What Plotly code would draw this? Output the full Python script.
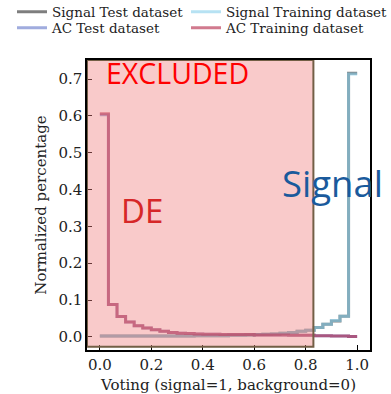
import numpy as np
import plotly.graph_objects as go

# 30 equal-width bins on the voting score
bin_edges = np.linspace(0.0, 1.0, 31)

signal_test = [0.002, 0.002, 0.002, 0.002, 0.002, 0.002, 0.002, 0.002, 0.002, 0.002,
               0.002, 0.003, 0.003, 0.003, 0.003, 0.004, 0.004, 0.005, 0.006, 0.007,
               0.008, 0.010, 0.012, 0.015, 0.018, 0.025, 0.034, 0.043, 0.056, 0.716]
signal_train = [0.002, 0.002, 0.002, 0.002, 0.002, 0.002, 0.002, 0.002, 0.002, 0.002,
                0.002, 0.003, 0.003, 0.003, 0.003, 0.004, 0.004, 0.005, 0.006, 0.007,
                0.008, 0.010, 0.012, 0.015, 0.018, 0.025, 0.034, 0.044, 0.056, 0.714]
ac_test = [0.603, 0.088, 0.055, 0.040, 0.030, 0.024, 0.019, 0.015, 0.012, 0.010,
           0.009, 0.008, 0.007, 0.007, 0.006, 0.006, 0.006, 0.006, 0.005, 0.005,
           0.005, 0.005, 0.004, 0.004, 0.004, 0.003, 0.003, 0.002, 0.002, 0.001]
ac_train = [0.606, 0.088, 0.055, 0.040, 0.030, 0.024, 0.019, 0.015, 0.012, 0.010,
            0.009, 0.008, 0.007, 0.007, 0.006, 0.006, 0.006, 0.006, 0.005, 0.005,
            0.005, 0.005, 0.004, 0.004, 0.004, 0.003, 0.003, 0.002, 0.002, 0.001]

# (name, values, colour, legend id)
series = [
    ("Signal Test dataset", signal_test, "rgba(40,40,40,0.6)", "legend"),
    ("Signal Training dataset", signal_train, "rgba(135,206,235,0.6)", "legend2"),
    ("AC Test dataset", ac_test, "rgba(65,90,190,0.5)", "legend3"),
    ("AC Training dataset", ac_train, "rgba(175,25,60,0.58)", "legend4"),
]

excluded_cut = 0.83

x_ticks = [0.0, 0.2, 0.4, 0.6, 0.8, 1.0]
y_ticks = [0.0, 0.1, 0.2, 0.3, 0.4, 0.5, 0.6, 0.7]

fig = go.Figure()
for name, vals, color, leg in series:
    fig.add_trace(go.Scatter(
        x=bin_edges, y=list(vals) + [vals[-1]],
        mode="lines", line=dict(shape="hv", width=3, color=color),
        name=name, legend=leg, showlegend=True,
    ))

# excluded region
fig.add_shape(type="rect", xref="x", yref="y",
              x0=-0.05, x1=excluded_cut, y0=-0.027, y1=0.752,
              fillcolor="rgba(240,128,128,0.42)",
              line=dict(color="rgb(115,95,70)", width=2), layer="above")

fig.add_annotation(x=0.018, y=0.716, xref="x", yref="y", text="EXCLUDED",
                   showarrow=False, xanchor="left", yanchor="middle",
                   font=dict(family="Open Sans", size=28.5, color="#ff0000"))
fig.add_annotation(x=0.076, y=0.343, xref="x", yref="y", text="DE",
                   showarrow=False, xanchor="left", yanchor="middle",
                   font=dict(family="Open Sans", size=33, color="#d62728"))
fig.add_annotation(x=0.7, y=0.418, xref="x", yref="y", text="Signal",
                   showarrow=False, xanchor="left", yanchor="middle",
                   font=dict(family="Open Sans", size=36.5, color="#1a5a9c"))

axis_common = dict(showline=True, linecolor="black", linewidth=1.5, mirror=True,
                   ticks="inside", ticklen=5, tickwidth=1.2, tickcolor="black",
                   showgrid=False, zeroline=False,
                   tickfont=dict(family="DejaVu Serif", size=15, color="#222"))

fig.update_xaxes(range=[-0.05, 1.05], tickvals=x_ticks,
                 ticktext=[f"{v:.1f}" for v in x_ticks],
                 title=dict(text="Voting (signal=1, background=0)", standoff=9,
                            font=dict(family="DejaVu Serif", size=15, color="#222")),
                 **axis_common)
fig.update_yaxes(range=[-0.0358, 0.752], tickvals=y_ticks,
                 ticktext=[f"{v:.1f}" for v in y_ticks],
                 title=dict(text="Normalized percentage", standoff=8,
                            font=dict(family="DejaVu Serif", size=15, color="#222")),
                 **axis_common)

legend_style = dict(orientation="h", xanchor="left", yanchor="middle",
                    font=dict(family="DejaVu Serif", size=13.5, color="#222"),
                    bgcolor="rgba(0,0,0,0)")

col1_x = (12 - 87) / 283
col2_x = (186 - 87) / 283
row1_y = 1 + (60 - 12) / 290
row2_y = 1 + (60 - 28) / 290

fig.update_layout(
    width=391, height=394,
    margin=dict(l=87, r=21, t=60, b=44, autoexpand=False),
    plot_bgcolor="white", paper_bgcolor="white",
    showlegend=True,
    legend=dict(x=col1_x, y=row1_y, **legend_style),
    legend2=dict(x=col2_x, y=row1_y, **legend_style),
    legend3=dict(x=col1_x, y=row2_y, **legend_style),
    legend4=dict(x=col2_x, y=row2_y, **legend_style),
)

fig.write_html("out.html")
